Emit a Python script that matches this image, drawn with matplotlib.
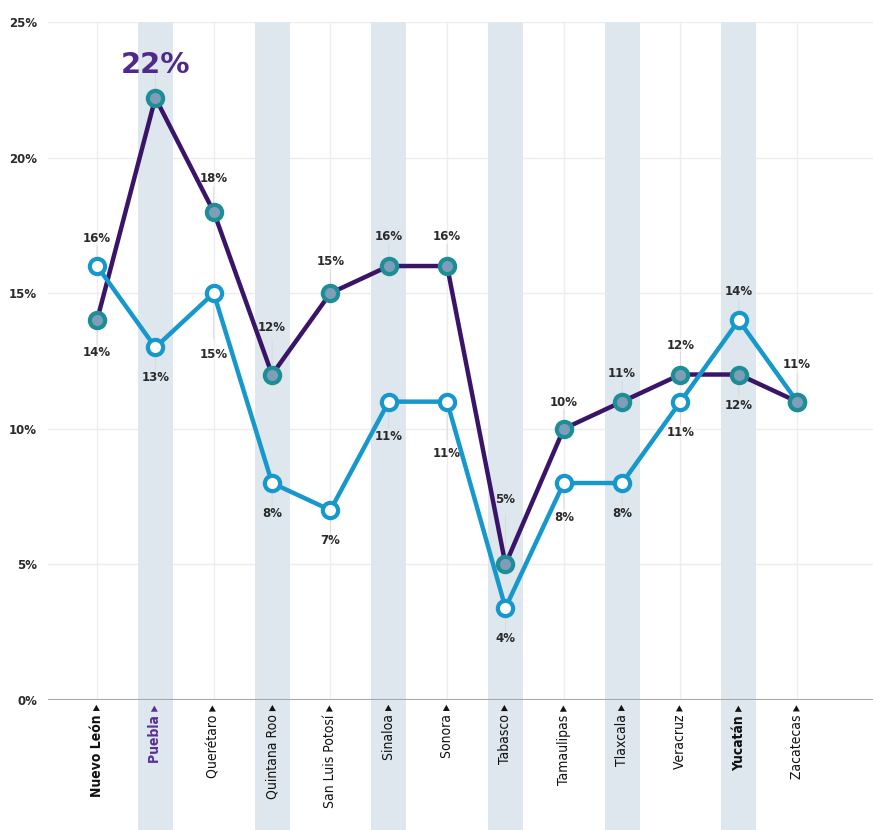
import matplotlib
matplotlib.use('Agg')
import matplotlib.pyplot as plt
from matplotlib import font_manager

# data
states = ['Nuevo León', 'Puebla', 'Querétaro', 'Quintana Roo', 'San Luis Potosí',
          'Sinaloa', 'Sonora', 'Tabasco', 'Tamaulipas', 'Tlaxcala', 'Veracruz',
          'Yucatán', 'Zacatecas']
purple_vals = [14, 22.2, 18, 12, 15, 16, 16, 5, 10, 11, 12, 12, 11]
cyan_vals = [16, 13, 15, 8, 7, 11, 11, 3.4, 8, 8, 11, 14, 11]
purple_labels = ['14%', '22%', '18%', '12%', '15%', '16%', '16%', '5%', '10%', '11%', '12%', '12%', '11%']
cyan_labels = ['16%', '13%', '15%', '8%', '7%', '11%', '11%', '4%', '8%', '8%', '11%', '14%', '']
yticks = [0, 5, 10, 15, 20, 25]

# label offsets in points (layout), positive = up
purple_off = [-23, 24, 24, 34, 23, 21, 21, 47, 19, 20, 21, -22, 27]
cyan_off = [20, -22, -44, -22, -22, -25, -37, -22, -25, -22, -22, 21, 0]

names = set(f.name for f in font_manager.fontManager.ttflist)
narrow = 'Liberation Sans Narrow' if 'Liberation Sans Narrow' in names else 'DejaVu Sans'
fam = [narrow, 'DejaVu Sans']

purple = '#3a1468'
cyan = '#1698cc'
band = '#dde7ed'
txt = '#2b2b2b'

fig = plt.figure(figsize=(8.73, 8.30), dpi=100)
ax = fig.add_axes([0.055, 0.1566, 0.945, 0.817])
ax.set_xlim(-0.84, 13.3)
ax.set_ylim(0, 25)

x = list(range(len(states)))

# background bands and faint grid
for i in x:
    ax.axvline(i, color='#eeeeee', lw=1, zorder=0)
    if i % 2 == 1:
        ax.axvspan(i - 0.3, i + 0.3, ymin=-0.2, ymax=1.0, color=band, lw=0,
                   zorder=0.5, clip_on=False)
for t in yticks[1:]:
    ax.axhline(t, color='#ececec', lw=1, zorder=0.2)
ax.axhline(0, color='#a8a8a8', lw=1.5, zorder=1)

# lines
ax.plot(x, purple_vals, color=purple, lw=3.2, zorder=2, solid_capstyle='round')
ax.plot(x, cyan_vals, color=cyan, lw=3.2, zorder=3, solid_capstyle='round')
ax.plot(x, cyan_vals, ls='none', marker='o', ms=11, mfc='white', mec=cyan, mew=3, zorder=4)
ax.plot(x, purple_vals, ls='none', marker='o', ms=11, mfc='#7d9db8', mec='#1e8e96', mew=3, zorder=5)

# value labels with faint leader lines
def put(i, y, s, off, **kw):
    ax.annotate(s, (i, y), xytext=(0, off), textcoords='offset points',
                ha='center', va='center', zorder=6, **kw)
    ax.annotate('', (i, y), xytext=(0, off * 0.75), textcoords='offset points',
                arrowprops=dict(arrowstyle='-', color='#d8d8d8', lw=0.6,
                                shrinkA=0, shrinkB=6), zorder=1.5)

for i in x:
    if i == 1:
        put(i, purple_vals[i], purple_labels[i], purple_off[i],
            fontsize=21, fontweight='heavy', color='#4f2a8c')
    else:
        put(i, purple_vals[i], purple_labels[i], purple_off[i],
            fontsize=8.5, fontweight='bold', color=txt)
    if cyan_labels[i]:
        put(i, cyan_vals[i], cyan_labels[i], cyan_off[i],
            fontsize=8.5, fontweight='bold', color=txt)

# axes styling
for s in ax.spines.values():
    s.set_visible(False)
ax.set_yticks(yticks)
ax.set_yticklabels([f'{t}%' for t in yticks], fontsize=8.5, fontweight='bold', color=txt)
ax.tick_params(axis='y', length=0, pad=8)
ax.set_xticks(x)
ax.set_xticklabels([s + ' ▸' for s in states], rotation=90, va='top', ha='center',
                   fontsize=10, family=fam, fontstretch='condensed', color='#111111')
ax.tick_params(axis='x', length=0, pad=3)
for i, lab in enumerate(ax.get_xticklabels()):
    if states[i] in ('Nuevo León', 'Puebla', 'Yucatán'):
        lab.set_fontweight('bold')
    if states[i] == 'Puebla':
        lab.set_color('#5a2d96')

fig.savefig('out.png', dpi=100)
